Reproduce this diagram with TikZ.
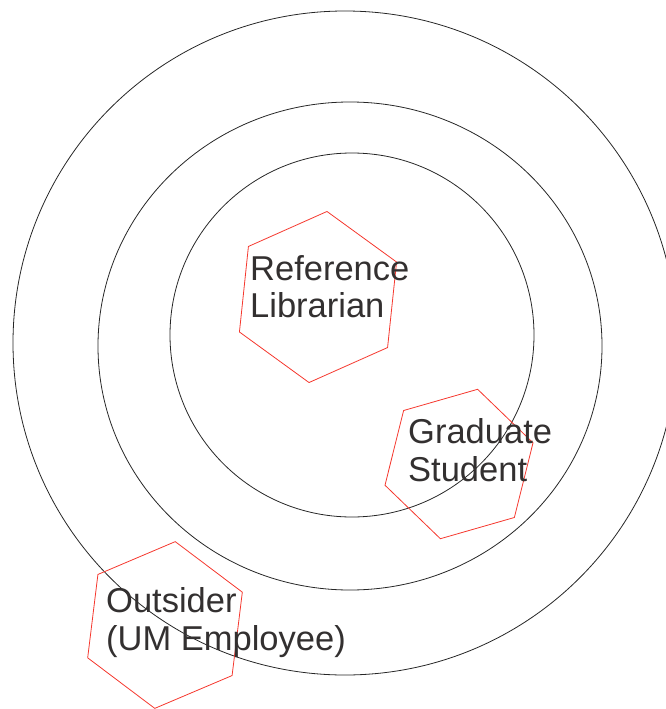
\documentclass[tikz,border=0pt]{standalone}
\usepackage{fontspec}
\setmainfont{Liberation Sans}
\usetikzlibrary{shapes.geometric}
\definecolor{hexred}{RGB}{245,55,45}
\definecolor{labelgray}{RGB}{51,48,48}
\tikzset{ring/.style = {draw = black!85, line width = 0.8}}
\tikzset{hex/.style = {draw = hexred, regular polygon, regular polygon sides = 6,
                       inner sep = 0, minimum size = #1, line width = 0.8}}
\tikzset{role/.style = {anchor = base west, align = left, text = labelgray,
                        inner sep = 0, font = \fontsize{34.5}{37.5}\selectfont}}
\begin{document}
\begin{tikzpicture}[x = 1pt, y = -1pt]
        \useasboundingbox (0, 0) rectangle (665, 709);
        \coordinate (outer) at (345, 343);
        \coordinate (middle) at (350, 346);
        \coordinate (inner) at (352, 335);
        \draw [ring] (outer) circle [radius = 332];
        \draw [ring] (middle) ellipse [x radius = 252, y radius = 244];
        \draw [ring] (inner) circle [radius = 182];
        \node (libhex) at (318, 297) [hex = 172, rotate = 24] {};
        \node (gradhex) at (459, 464) [hex = 154, rotate = 16] {};
        \node (outhex) at (165, 625) [hex = 168, rotate = 23] {};
        % base sits on the last line
        \node (lib) at (250, 317.5) [role] {Reference\\Librarian};
        \node (grad) at (408, 481) [role] {Graduate\\Student};
        \node (out) at (106, 650) [role] {Outsider\\(UM Employee)};
      \end{tikzpicture}
\end{document}
